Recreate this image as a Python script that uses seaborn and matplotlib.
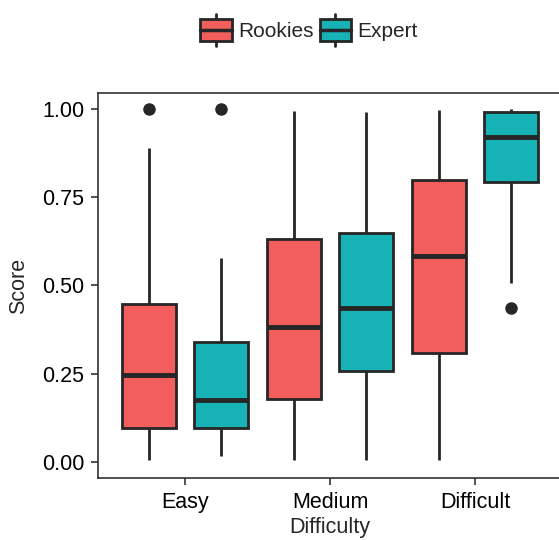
import numpy as np
import pandas as pd
import matplotlib
matplotlib.use("Agg")
import matplotlib.pyplot as plt
import seaborn as sns
from matplotlib.patches import Patch, Rectangle
from matplotlib.lines import Line2D
from matplotlib.legend_handler import HandlerBase

# categories and groups
difficulty = ["Easy", "Medium", "Difficult"]
groups = ["Rookies", "Expert"]
colors = ["#F15E5B", "#17B2B5"]

# scores per group (whisker ends, quartiles, median, outliers)
easy_rookies = [0.006, 0.05, 0.096, 0.17, 0.246, 0.35, 0.448, 0.89, 1.0]
easy_expert = [0.017, 0.06, 0.096, 0.14, 0.176, 0.26, 0.34, 0.578, 1.0]
medium_rookies = [0.006, 0.09, 0.178, 0.28, 0.383, 0.50, 0.632, 0.80, 0.994]
medium_expert = [0.006, 0.13, 0.257, 0.35, 0.436, 0.55, 0.649, 0.82, 0.99]
difficult_rookies = [0.006, 0.15, 0.308, 0.45, 0.584, 0.70, 0.799, 0.90, 0.997]
difficult_expert = [0.436, 0.507, 0.793, 0.86, 0.92, 0.95, 0.99, 0.995, 1.0]

rows = []
for diff, grp, vals in [
    ("Easy", "Rookies", easy_rookies),
    ("Easy", "Expert", easy_expert),
    ("Medium", "Rookies", medium_rookies),
    ("Medium", "Expert", medium_expert),
    ("Difficult", "Rookies", difficult_rookies),
    ("Difficult", "Expert", difficult_expert),
]:
    for v in vals:
        rows.append({"Difficulty": diff, "Group": grp, "Score": v})
df = pd.DataFrame(rows)

sns.set_theme(style="ticks")
plt.rcParams["font.family"] = ["Liberation Sans", "DejaVu Sans"]

line_col = "#262626"


class BoxHandler(HandlerBase):
    def create_artists(self, legend, orig_handle, xdescent, ydescent,
                       width, height, fontsize, trans):
        x0, y0 = -xdescent, -ydescent
        fc = orig_handle.get_facecolor()
        cx = x0 + width / 2
        b0 = y0 + 0.16 * height
        b1 = y0 + 0.84 * height
        rect = Rectangle((x0, b0), width, b1 - b0, facecolor=fc,
                         edgecolor=line_col, linewidth=2, transform=trans)
        med = Line2D([x0, x0 + width], [(b0 + b1) / 2] * 2, color=line_col,
                     linewidth=2.5, transform=trans)
        w1 = Line2D([cx, cx], [y0, b0], color=line_col, linewidth=2,
                    transform=trans)
        w2 = Line2D([cx, cx], [b1, y0 + height], color=line_col, linewidth=2,
                    transform=trans)
        return [w1, w2, rect, med]


fig = plt.figure(figsize=(5.59, 5.40), dpi=100)
ax = fig.add_axes([0.1753, 0.1148, 0.830, 0.713])

sns.boxplot(
    data=df, x="Difficulty", y="Score", hue="Group",
    order=difficulty, hue_order=groups, palette=colors,
    saturation=1, width=1.0, gap=0.25, linecolor=line_col, linewidth=2,
    showcaps=False, whis=1.5,
    medianprops=dict(linewidth=3.5, color=line_col),
    flierprops=dict(marker="o", markerfacecolor=line_col,
                    markeredgecolor=line_col, markersize=8),
    legend=False, ax=ax,
)

ax.set_xlim(-0.6, 2.6)
ax.set_ylim(-0.045, 1.045)
ax.set_yticks([0, 0.25, 0.5, 0.75, 1.0])
ax.set_yticklabels(["0.00", "0.25", "0.50", "0.75", "1.00"])
ax.set_xlabel("Difficulty", fontsize=15.5, labelpad=3)
ax.set_ylabel("Score", fontsize=15.5, labelpad=9)
ax.tick_params(axis="both", labelsize=15.5, length=5, width=1.2,
               color="#333333", labelcolor="black")
ax.tick_params(axis="y", pad=5)
ax.tick_params(axis="x", pad=5)
for s in ax.spines.values():
    s.set_visible(True)
    s.set_color("#333333")
    s.set_linewidth(1.2)

handles = [Patch(facecolor=c, label=g) for c, g in zip(colors, groups)]
fig.legend(handles=handles, labels=groups, loc="center",
           bbox_to_anchor=(309 / 559, 1 - 30 / 540), ncol=2, frameon=False,
           fontsize=15, handlelength=1.5, handleheight=2.0,
           handletextpad=0.3, columnspacing=0.3,
           handler_map={Patch: BoxHandler()})

fig.savefig("out.png", dpi=100)
